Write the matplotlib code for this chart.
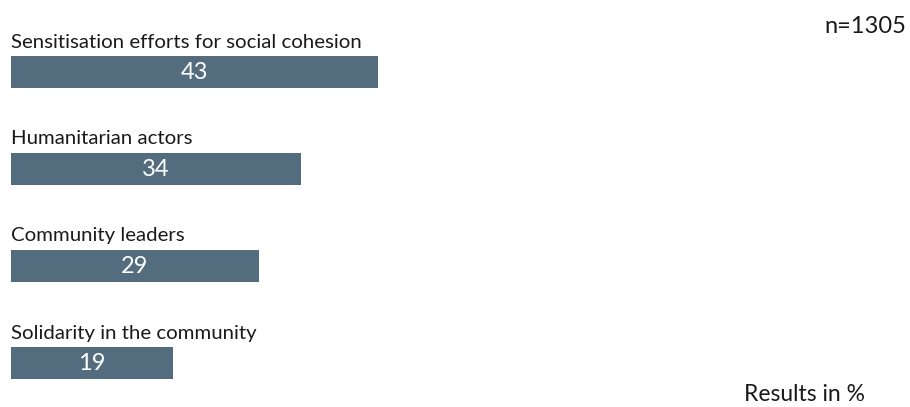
import matplotlib.pyplot as plt

plt.rcParams['font.family'] = ['Lato', 'DejaVu Sans']

categories = ["Sensitisation efforts for social cohesion", "Humanitarian actors",
              "Community leaders", "Solidarity in the community"]
values = [43, 34, 29, 19]
sample_note = "n=1305"
unit_note = "Results in %"

bar_color = "#536d7e"

fig = plt.figure(figsize=(9.10, 4.07), dpi=100)
# axes in pixel-like units: x = percent, y = pixels from top
ax = fig.add_axes([11 / 910, 0, 1 - 11 / 910, 1])
ax.set_xlim(0, 899 / 8.535)
ax.set_ylim(407, 0)
ax.axis("off")

ys = [71.5 + 97 * i for i in range(len(values))]
ax.barh(ys, values, height=32, color=bar_color, align="center")

for y, cat, v in zip(ys, categories, values):
    ax.text(0, y - 24, cat, fontsize=14.7, color="#1a1a1a", va="baseline", ha="left")
    ax.text(v / 2, y + 1, str(v), fontsize=17, color="white", va="center", ha="center")

fig.text(906 / 910, 1 - 33 / 407, sample_note, fontsize=17, color="#1a1a1a",
         ha="right", va="baseline")
fig.text(865 / 910, 1 - 401 / 407, unit_note, fontsize=16.5, color="#1a1a1a",
         ha="right", va="baseline")

fig.savefig("out.png", dpi=100, facecolor="white")
